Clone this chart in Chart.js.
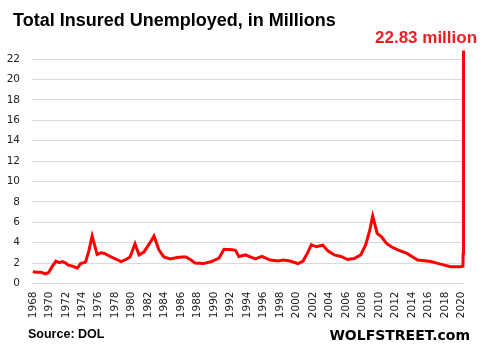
<!DOCTYPE html>
<html lang="en">
<head>
<meta charset="UTF-8">
<title>Total Insured Unemployed</title>
<style>
  body { margin: 0; background: #fff; }
  .wrap { position: relative; width: 482px; height: 354px; overflow: hidden; }
  .txt { position: absolute; white-space: nowrap; font-weight: bold; }
  #title { left: 13px; top: 11px; font: bold 18px/18px "Liberation Sans", Arial, sans-serif; color: #000; }
  #peak { left: 375px; top: 29px; font: bold 17px/17px "Liberation Sans", Arial, sans-serif; color: #ee1c25; }
  #source { left: 28px; top: 328px; font: bold 12.5px/12.5px "Liberation Sans", Arial, sans-serif; color: #000; }
  #brand { right: 12px; top: 328px; font: bold 14px/14px "DejaVu Sans", sans-serif; color: #000; }
</style>
</head>
<body>
<div class="wrap">
  <canvas id="chart" width="482" height="354"></canvas>
  <div class="txt" id="title">Total Insured Unemployed, in Millions</div>
  <div class="txt" id="peak">22.83 million</div>
  <div class="txt" id="source">Source: DOL</div>
  <div class="txt" id="brand">WOLFSTREET.com</div>
</div>

<script src="https://cdn.jsdelivr.net/npm/chart.js"></script>
<script>
// values, millions of insured unemployed
const years = [
  1968.0, 1968.5, 1969.0, 1969.5, 1969.9, 1970.3, 1970.8, 1971.2, 1971.6, 1972.0,
  1972.3, 1972.8, 1973.4, 1973.8, 1974.4, 1974.8, 1975.2, 1975.8, 1976.3, 1976.7,
  1977.5, 1978.2, 1978.7, 1979.3, 1979.8, 1980.4, 1980.9, 1981.5, 1982.3, 1982.7,
  1983.3, 1983.9, 1984.7, 1985.5, 1986.1, 1986.6, 1987.2, 1987.7, 1988.7, 1989.7,
  1990.6, 1991.2, 1992.2, 1992.6, 1993.0, 1993.8, 1994.4, 1995.0, 1995.8, 1996.8,
  1997.8, 1998.4, 1999.2, 2000.2, 2000.8, 2001.4, 2001.8, 2002.4, 2003.2, 2003.8,
  2004.6, 2005.4, 2006.2, 2007.0, 2007.8, 2008.4, 2008.9, 2009.25, 2009.8, 2010.3,
  2010.9, 2011.5, 2012.3, 2013.4, 2014.7, 2016.3, 2017.5, 2018.7, 2019.9, 2020.2,
  2020.22, 2020.25, 2020.27, 2020.3
];
const insured = [
  1.15, 1.1, 1.1, 0.95, 1.05, 1.6, 2.2, 2.05, 2.15, 2.0,
  1.8, 1.7, 1.5, 1.95, 2.1, 3.2, 4.65, 2.85, 3.0, 2.95,
  2.6, 2.35, 2.15, 2.35, 2.6, 3.9, 2.8, 3.1, 4.1, 4.65,
  3.3, 2.6, 2.4, 2.55, 2.6, 2.6, 2.3, 2.0, 1.95, 2.15,
  2.5, 3.35, 3.3, 3.25, 2.65, 2.8, 2.6, 2.4, 2.65, 2.3,
  2.2, 2.3, 2.2, 1.95, 2.2, 3.1, 3.8, 3.6, 3.75, 3.2,
  2.8, 2.65, 2.35, 2.45, 2.8, 3.8, 5.25, 6.6, 4.9, 4.6,
  3.95, 3.6, 3.3, 2.95, 2.3, 2.15, 1.9, 1.65, 1.65, 1.7,
  3.0, 7.4, 17.5, 22.83
];

const points = years.map((y, i) => ({ x: y, y: insured[i] }));

new Chart(document.getElementById('chart'), {
  type: 'line',
  data: {
    datasets: [{
      data: points,
      borderColor: '#ff0000',
      borderWidth: 3,
      pointRadius: 0,
      tension: 0,
      clip: false
    }]
  },
  options: {
    responsive: false,
    animation: false,
    layout: { padding: { top: 59, right: 18, left: 0, bottom: 0 } },
    plugins: { legend: { display: false }, tooltip: { enabled: false } },
    scales: {
      x: {
        type: 'linear',
        min: 1967.9,
        max: 2020.3,
        afterFit: s => { s.height = 70.5; },
        grid: { display: false, drawTicks: false },
        border: { display: false },
        ticks: {
          stepSize: 2,
          includeBounds: false,
          autoSkip: false,
          minRotation: 90,
          maxRotation: 90,
          padding: 8,
          color: '#222',
          font: { family: 'DejaVu Sans', size: 10.5 },
          callback: v => String(v)
        }
      },
      y: {
        min: 0,
        max: 22,
        afterFit: s => { s.width = 32; },
        grid: { color: '#d9d9d9', lineWidth: 1, drawTicks: false },
        border: { display: false },
        ticks: {
          stepSize: 2,
          padding: 12,
          color: '#222',
          font: { family: 'DejaVu Sans', size: 10.5 }
        }
      }
    }
  }
});
</script>
</body>
</html>
